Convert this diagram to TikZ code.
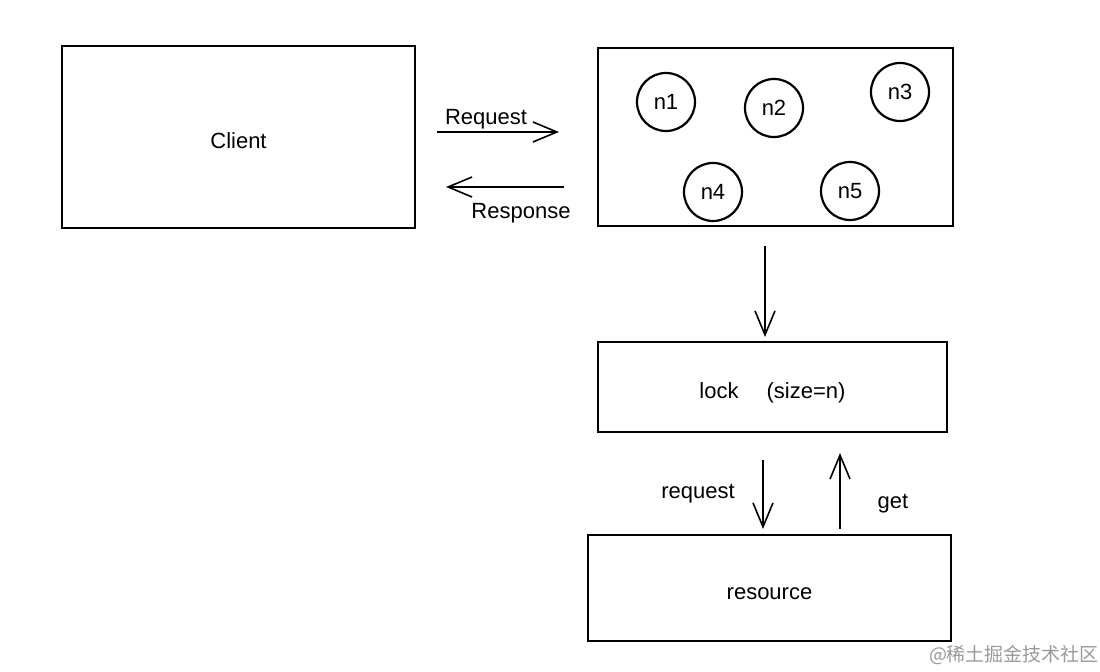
\documentclass[tikz,border=0pt]{standalone}
\usepackage{fontspec}
\setmainfont{Liberation Sans}
\newfontfamily\cjkfont{Noto Sans CJK SC}
\usetikzlibrary{arrows.meta, positioning}

\begin{document}
\begin{tikzpicture}[
  x=0.5pt, y=-0.5pt,
  >={Straight Barb[length=12pt, width=10pt]},
  box/.style={
    draw, line width=1pt, minimum width=#1,
    text height=12pt, text depth=0pt, font=\fontsize{11}{13}\selectfont
  },
  proc/.style={
    circle, draw, line width=1.1pt, minimum size=29pt,
    inner sep=0pt, font=\fontsize{11}{13}\selectfont
  },
  lab/.style={font=\fontsize{11}{13}\selectfont},
  flow/.style={->, line width=0.8pt},
]
\useasboundingbox (0,0) rectangle (1100,672);

%%% Boxes
\node[box=176.5pt, minimum height=91pt] (client)  at (238.5,137) {Client};
\node[box=177.5pt, minimum height=89pt] (cluster) at (775.5,137) {};
\node[box=174.5pt, minimum height=45pt] (lock)    at (772.5,387) {lock\quad\ (size=n)};
\node[box=181.5pt, minimum height=53pt] (res)     at (769.5,588) {resource};

%%% Nodes inside the cluster
\node[proc] (n1) at (666,102) {n1};
\node[proc] (n2) at (774,108) {n2};
\node[proc] (n3) at (900,92)  {n3};
\node[proc] (n4) at (713,192) {n4};
\node[proc] (n5) at (850,191) {n5};

%%% Client <-> cluster
\draw[flow, shorten <=10.5pt, shorten >=19pt]
  ([yshift=2.5pt]client.east) -- ([yshift=2.5pt]cluster.west);
\node[lab] (reqlab) at (486,119) {Request};
\draw[flow, shorten <=16.5pt, shorten >=15pt]
  ([yshift=-25pt]cluster.west) -- ([yshift=-25pt]client.east);
\node[lab] (resplab) at (521,213) {Response};

%%% Cluster -> lock
\draw[flow, shorten <=9.5pt, shorten >=2pt]
  ([xshift=-5.25pt]cluster.south) -- ([xshift=-3.75pt]lock.north);

%%% Lock <-> resource
\draw[flow, shorten <=13.5pt, shorten >=2.5pt]
  ([xshift=-4.75pt]lock.south) -- ([xshift=-3.25pt]res.north);
\node[lab] (rqlab) at (698,494) {request};
\draw[flow, shorten <=2.5pt, shorten >=10pt]
  ([xshift=35.25pt]res.north) -- ([xshift=33.75pt]lock.south);
\node[lab] (getlab) at (893,504) {get};

%%% Watermark
\node[font=\cjkfont\fontsize{9.5}{11}\selectfont, color=black!40] (mark)
  at (1014,655) {@稀土掘金技术社区};

\end{tikzpicture}
\end{document}
